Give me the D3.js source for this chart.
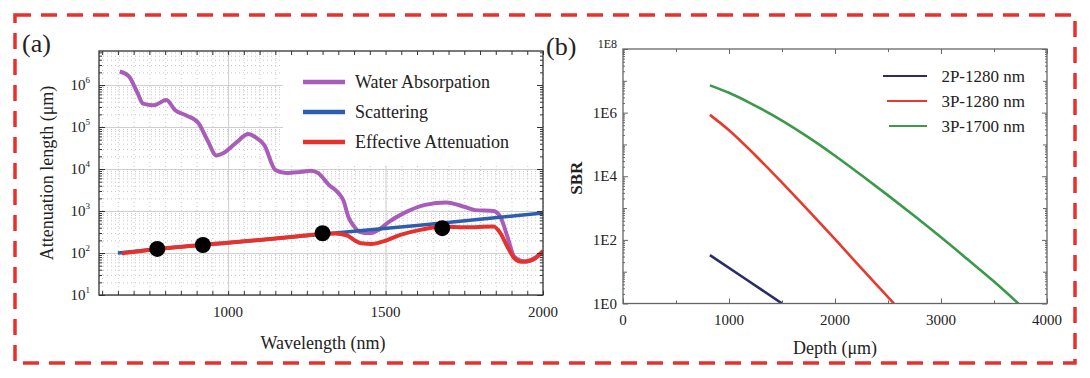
<!DOCTYPE html>
<html><head><meta charset="utf-8">
<script src="https://cdn.jsdelivr.net/npm/d3@7"></script>
<style>
body{margin:0;background:#fff}
svg{display:block}
</style>
</head><body>
<svg id="c" width="1090" height="378" font-family="'Liberation Serif', 'DejaVu Serif', serif"></svg>
<script>
// ---------- Panel (a) data ----------
const waterNm  = [656,685,713,730,764,804,832,866,905,934,963,985,1025,1064,1087,1115,1150,1184,1229,1263,1286,1320,1350,1366,1382,1400,1417,1450,1479,1512,1558,1626,1693,1750,1785,1843,1865,1887,1909,1944,1979,2000];
const waterVal = [2.1e6,1.6e6,6.3e5,3.6e5,3.3e5,4.4e5,2.5e5,1.9e5,1.26e5,4.9e4,2.1e4,2.4e4,4.2e4,6.8e4,5.7e4,3.7e4,9500,8000,8500,9100,8000,4200,2700,1800,720,430,320,295,360,560,890,1400,1600,1260,1050,1000,720,245,81,62,81,107];
const scatNm   = [650,800,1000,1200,1400,1600,1800,2000];
const scatVal  = [100,130,175,240,330,450,640,900];
const effNm    = [662,800,1000,1200,1296,1340,1376,1400,1422,1456,1490,1547,1614,1684,1750,1843,1865,1887,1909,1931,1966,2000];
const effVal   = [98,130,175,240,285,290,265,205,170,163,186,270,360,425,410,425,295,141,75,62,68,112];
const dotNm    = [775,920,1300,1680];
const dotVal   = [125,155,295,390];
const legendA  = ["Water Absorpation","Scattering","Effective Attenuation"];
const xTicksA  = [1000,1500,2000];
const yTicksA  = [1e1,1e2,1e3,1e4,1e5,1e6];
const yExpA    = ["1","2","3","4","5","6"];

// ---------- Panel (b) data ----------
const depth2P     = [820,1160,1500];
const sbr2P       = [33,5.8,1];
const depth3P1280 = [820,1000,1250,1500,1750,2000,2250,2556];
const sbr3P1280   = [8.5e5,2.8e5,4.5e4,6.3e3,8.3e2,1.05e2,12.6,1];
const depth3P1700 = [820,1000,1200,1500,1750,2000,2250,2500,2750,3000,3250,3500,3730];
const sbr3P1700   = [7.2e6,4.2e6,2.0e6,5.6e5,1.66e5,4.4e4,1.07e4,2.5e3,5.6e2,1.2e2,24.5,4.9,1];
const legendB     = ["2P-1280 nm","3P-1280 nm","3P-1700 nm"];
const xTicksB     = [0,1000,2000,3000,4000];
const yTicksB     = [1,1e2,1e4,1e6,1e8];
const yLabelsB    = ["1E0","1E2","1E4","1E6","1E8"];

const FONT = "'Liberation Serif', 'DejaVu Serif', serif";
const svg = d3.select("#c");

// ---------- frame: dashed red border ----------
svg.append("rect").attr("x",15).attr("y",15).attr("width",1060).attr("height",348)
  .attr("fill","none").attr("stroke","#e8312e").attr("stroke-width",3.5)
  .attr("stroke-dasharray","16,10");

function txt(g,x,y,s,size,anchor){
  return g.append("text").attr("x",x).attr("y",y).attr("font-family",FONT)
    .attr("font-size",size).attr("fill","#222").attr("text-anchor",anchor||"start").text(s);
}

// ================= Panel (a) =================
const A = {l:99, r:543, t:51, b:295};
const xA = d3.scaleLinear().domain([590,2000]).range([A.l,A.r]);
const yA = d3.scaleLog().domain([10,Math.pow(10,6.81)]).range([A.b,A.t]);
const gA = svg.append("g");

const xMinorA = d3.range(600,2001,50);
const yMinorA = [];
for (let k=1;k<=6;k++) for (let m=2;m<=9;m++){const v=m*Math.pow(10,k); if (v<=yA.domain()[1]) yMinorA.push(v);}

// grid
gA.append("g").attr("transform",`translate(0,${A.b})`)
  .call(d3.axisBottom(xA).tickValues(xMinorA).tickSize(-(A.b-A.t)).tickFormat(""))
  .call(g=>g.select(".domain").remove())
  .selectAll("line").attr("stroke","#bbb").attr("stroke-dasharray","1,3").attr("stroke-width",0.8);
gA.append("g").attr("transform",`translate(${A.l},0)`)
  .call(d3.axisLeft(yA).tickValues(yMinorA).tickSize(-(A.r-A.l)).tickFormat(""))
  .call(g=>g.select(".domain").remove())
  .selectAll("line").attr("stroke","#bbb").attr("stroke-dasharray","1,3").attr("stroke-width",0.8);
gA.append("g").attr("transform",`translate(0,${A.b})`)
  .call(d3.axisBottom(xA).tickValues([1000,1500]).tickSize(-(A.b-A.t)).tickFormat(""))
  .call(g=>g.select(".domain").remove())
  .selectAll("line").attr("stroke","#cfcfcf").attr("stroke-width",1);
gA.append("g").attr("transform",`translate(${A.l},0)`)
  .call(d3.axisLeft(yA).tickValues(yTicksA).tickSize(-(A.r-A.l)).tickFormat(""))
  .call(g=>g.select(".domain").remove())
  .selectAll("line").attr("stroke","#cfcfcf").attr("stroke-width",1);

// legend background
gA.append("rect").attr("x",283).attr("y",A.t+1).attr("width",A.r-283-1).attr("height",114).attr("fill","#fff");

// clip
svg.append("clipPath").attr("id","clipA").append("rect")
  .attr("x",A.l).attr("y",A.t).attr("width",A.r-A.l).attr("height",A.b-A.t);
const lineA = d3.line().x(d=>xA(d[0])).y(d=>yA(d[1])).curve(d3.curveMonotoneX);
const curvesA = gA.append("g").attr("clip-path","url(#clipA)");
curvesA.append("path").datum(d3.zip(waterNm,waterVal)).attr("d",lineA)
  .attr("fill","none").attr("stroke","#a95dbb").attr("stroke-width",4).attr("stroke-linejoin","round");
curvesA.append("path").datum(d3.zip(scatNm,scatVal)).attr("d",lineA)
  .attr("fill","none").attr("stroke","#2d5eac").attr("stroke-width",3.5);
curvesA.append("path").datum(d3.zip(effNm,effVal)).attr("d",lineA)
  .attr("fill","none").attr("stroke","#e5322d").attr("stroke-width",4).attr("stroke-linejoin","round");
curvesA.selectAll("circle").data(d3.zip(dotNm,dotVal)).join("circle")
  .attr("cx",d=>xA(d[0])).attr("cy",d=>yA(d[1])).attr("r",8).attr("fill","#000");

// axes ticks (inward, mirrored)
function ticks(g, axisFn, scale, vals, size, tr, col){
  g.append("g").attr("transform",tr)
   .call(axisFn(scale).tickValues(vals).tickSize(size).tickSizeOuter(0).tickFormat(""))
   .call(s=>s.select(".domain").remove())
   .selectAll("line").attr("stroke",col).attr("stroke-width",1);
}
const colA = "#333";
ticks(gA,d3.axisBottom,xA,xMinorA,-4,`translate(0,${A.b})`,colA);
ticks(gA,d3.axisTop,xA,xMinorA,-4,`translate(0,${A.t})`,colA);
ticks(gA,d3.axisLeft,yA,yTicksA,-6,`translate(${A.l},0)`,colA);
ticks(gA,d3.axisLeft,yA,yMinorA,-3,`translate(${A.l},0)`,colA);
ticks(gA,d3.axisRight,yA,yTicksA,-6,`translate(${A.r},0)`,colA);
ticks(gA,d3.axisRight,yA,yMinorA,-3,`translate(${A.r},0)`,colA);
gA.append("rect").attr("x",A.l).attr("y",A.t).attr("width",A.r-A.l).attr("height",A.b-A.t)
  .attr("fill","none").attr("stroke",colA).attr("stroke-width",1.3);

// tick labels
xTicksA.forEach(v=>{ txt(gA,xA(v),A.b+22,v,15,"middle"); });
yTicksA.forEach((v,i)=>{
  const t = txt(gA,A.l-9,yA(v)+5,"",15,"end");
  t.append("tspan").text("10");
  t.append("tspan").attr("font-size",9).attr("dy",-7).text(yExpA[i]);
});
txt(gA,(A.l+A.r)/2+2,349,"Wavelength (nm)",18,"middle");
txt(gA,0,0,"Attenuation length (μm)",18,"middle")
  .attr("transform",`translate(53,${(A.t+A.b)/2}) rotate(-90)`);
txt(gA,22,52,"(a)",26);

// legend (a)
const legColA = ["#a95dbb","#2d5eac","#e5322d"];
const legYA = [82,112,142];
legendA.forEach((s,i)=>{
  gA.append("line").attr("x1",303).attr("x2",345).attr("y1",legYA[i]).attr("y2",legYA[i])
    .attr("stroke",legColA[i]).attr("stroke-width",4.5);
  txt(gA,355,legYA[i]+6,s,18);
});

// ================= Panel (b) =================
const B = {l:623, r:1047, t:49, b:303.5};
const xB = d3.scaleLinear().domain([0,4000]).range([B.l,B.r]);
const yB = d3.scaleLog().domain([1,1e8]).range([B.b,B.t]);
const gB = svg.append("g");
const colB = "#666";

const xMinorB = [500,1500,2500,3500];
const yOddB = [10,1e3,1e5,1e7];
const yMinorB = [];
for (let k=0;k<8;k++) for (let m=2;m<=9;m++) yMinorB.push(m*Math.pow(10,k));

svg.append("clipPath").attr("id","clipB").append("rect")
  .attr("x",B.l).attr("y",B.t).attr("width",B.r-B.l).attr("height",B.b-B.t);
const lineB = d3.line().x(d=>xB(d[0])).y(d=>yB(d[1])).curve(d3.curveMonotoneX);
const curvesB = gB.append("g").attr("clip-path","url(#clipB)");
const seriesB = [[depth2P,sbr2P,"#2a2c6a"],[depth3P1280,sbr3P1280,"#e63a2e"],[depth3P1700,sbr3P1700,"#3b9a4a"]];
seriesB.forEach(s=>{
  curvesB.append("path").datum(d3.zip(s[0],s[1])).attr("d",lineB)
    .attr("fill","none").attr("stroke",s[2]).attr("stroke-width",2.6);
});

ticks(gB,d3.axisBottom,xB,xTicksB,-5,`translate(0,${B.b})`,colB);
ticks(gB,d3.axisBottom,xB,xMinorB,-3,`translate(0,${B.b})`,colB);
ticks(gB,d3.axisTop,xB,xTicksB,-5,`translate(0,${B.t})`,colB);
ticks(gB,d3.axisTop,xB,xMinorB,-3,`translate(0,${B.t})`,colB);
ticks(gB,d3.axisLeft,yB,yTicksB,-5,`translate(${B.l},0)`,colB);
ticks(gB,d3.axisLeft,yB,yOddB,-4,`translate(${B.l},0)`,colB);
ticks(gB,d3.axisLeft,yB,yMinorB,-2,`translate(${B.l},0)`,colB);
ticks(gB,d3.axisRight,yB,yTicksB,-5,`translate(${B.r},0)`,colB);
ticks(gB,d3.axisRight,yB,yOddB,-4,`translate(${B.r},0)`,colB);
ticks(gB,d3.axisRight,yB,yMinorB,-2,`translate(${B.r},0)`,colB);
gB.append("rect").attr("x",B.l).attr("y",B.t).attr("width",B.r-B.l).attr("height",B.b-B.t)
  .attr("fill","none").attr("stroke",colB).attr("stroke-width",1.3);

xTicksB.forEach(v=>{ txt(gB,xB(v),B.b+21,v,15,"middle"); });
yTicksB.forEach((v,i)=>{
  const top = i===yTicksB.length-1;
  txt(gB,B.l-6,yB(v)+(top?-1:5),yLabelsB[i],top?12:15,"end");
});
txt(gB,(B.l+B.r)/2,354,"Depth (μm)",18,"middle");
txt(gB,0,0,"SBR",17,"middle").attr("font-weight","bold")
  .attr("transform",`translate(582,${(B.t+B.b)/2+2}) rotate(-90)`);
txt(gB,546,55,"(b)",26);

// legend (b)
const legYB = [76,101,126];
const legX1B = [883,887,889];
legendB.forEach((s,i)=>{
  gB.append("line").attr("x1",legX1B[i]).attr("x2",927).attr("y1",legYB[i]).attr("y2",legYB[i])
    .attr("stroke",seriesB[i][2]).attr("stroke-width",2.2);
  txt(gB,1025,legYB[i]+6,s,17,"end");
});
</script>
</body></html>
